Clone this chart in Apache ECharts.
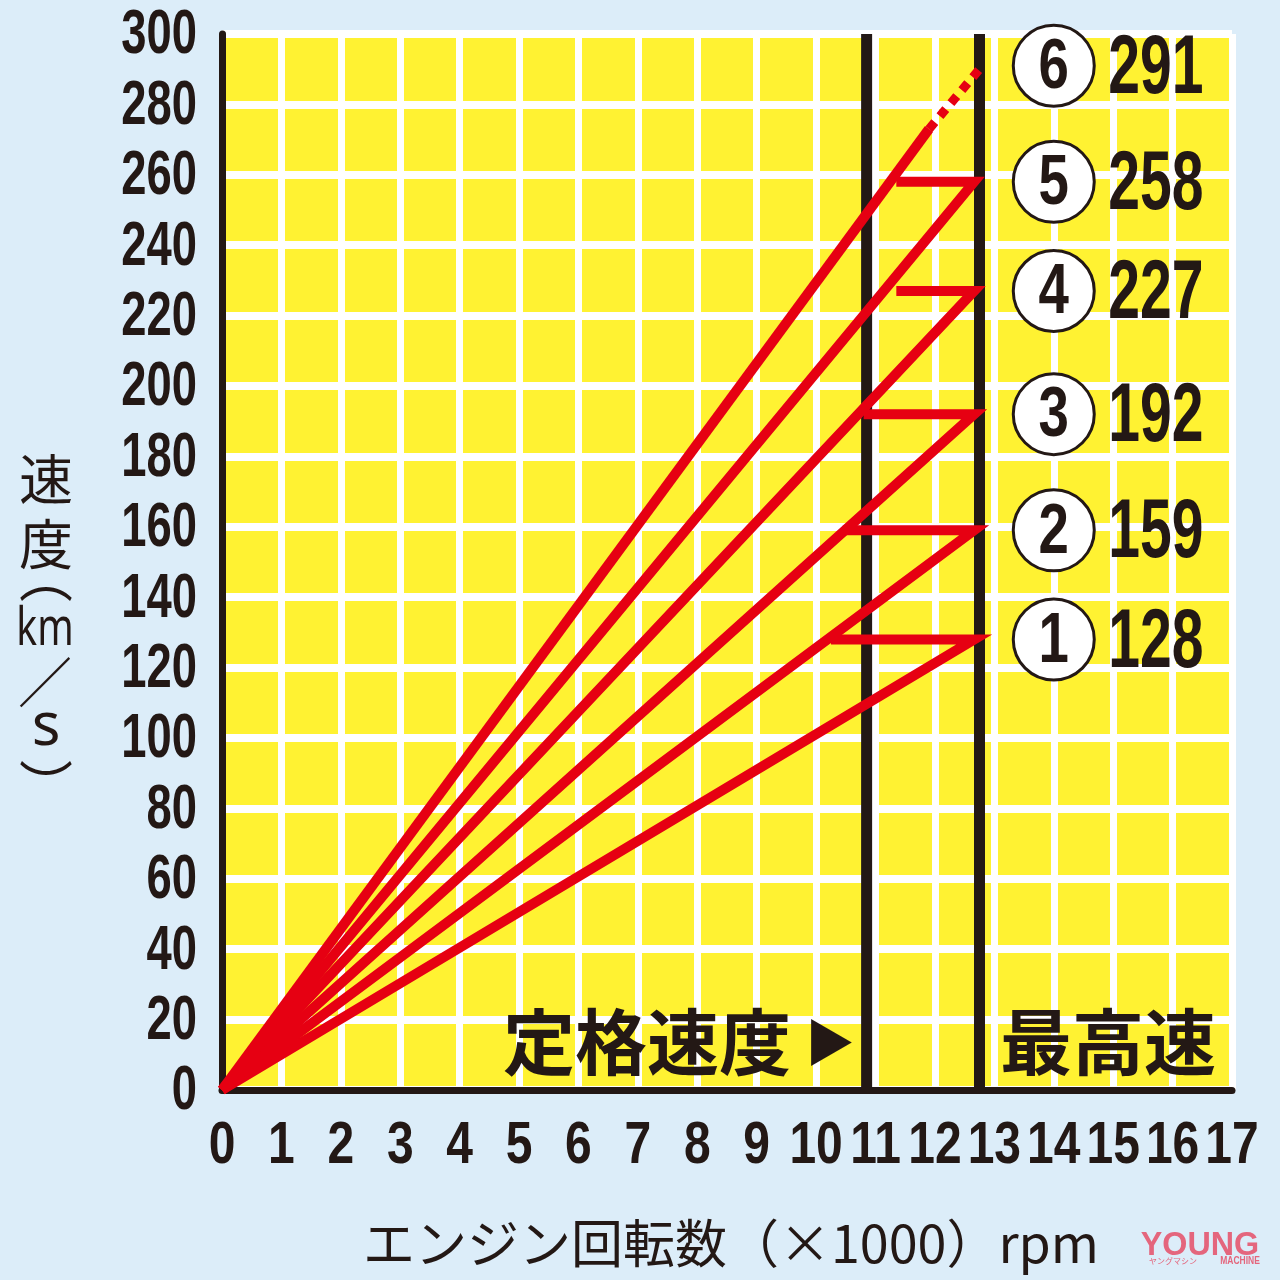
<!DOCTYPE html>
<html><head><meta charset="utf-8">
<script src="https://cdn.jsdelivr.net/npm/echarts@6/dist/echarts.min.js"></script>
<style>html,body{margin:0;padding:0;background:#dcedf9;}#c{width:1280px;height:1280px;}</style>
</head><body><div id="c"></div>
<script>
// ---- data ----
const rpmTicks = [0,1,2,3,4,5,6,7,8,9,10,11,12,13,14,15,16,17];
const speedTicks = [0,20,40,60,80,100,120,140,160,180,200,220,240,260,280,300];
const gearNames = ['1','2','3','4','5','6'];
const gearTopSpeed = [128,159,192,227,258,291];
const redlineRpm = 12.66;          // vertex of each gear line at its top speed
const shiftRpm = [10.25,10.45,10.8,11.35,11.35]; // left end of each shift line
const gear6SolidEnd = [11.9, 273];
const gear6End = [12.8, 291];
const ratedRpm = 10.85;
const maxRpm = 12.75;
const ratedLabel = '定格速度';
const maxLabel = '最高速';
const xName = 'エンジン回転数（×1000）rpm';
const yNameParts = ['︵', '速','度','km','／','s','︶'];

// ---- style ----
const RED = '#e60012', BLACK = '#231815', YELLOW = '#fff232';
const NUMFONT = '"Liberation Sans",Arial,sans-serif';
const JPFONT = '"Noto Sans CJK JP","Noto Sans",sans-serif';
const labelCircleRpm = 14.0, labelValueRpm = 14.95;

const series = [];
gearTopSpeed.forEach((top, i) => {
  if (i < 5) {
    series.push({
      type: 'line', symbol: 'none', z: 5, silent: true,
      lineStyle: { color: RED, width: 10, join: 'miter', cap: 'butt' },
      data: [[0, 0], [redlineRpm, top], [shiftRpm[i], top]]
    });
  }
});
series.push({
  type: 'line', symbol: 'none', z: 5, silent: true,
  lineStyle: { color: RED, width: 10, cap: 'butt' },
  data: [[0, 0], gear6SolidEnd]
});
series.push({
  type: 'line', symbol: 'none', z: 5, silent: true,
  lineStyle: { color: RED, width: 9, type: [9, 8], cap: 'butt' },
  data: [gear6SolidEnd, gear6End]
});
[ratedRpm, maxRpm].forEach(r => {
  series.push({
    type: 'line', symbol: 'none', z: 3, silent: true,
    lineStyle: { color: BLACK, width: 11, cap: 'butt' },
    data: [[r, 0], [r, 300]]
  });
});
series.push({
  type: 'scatter', z: 6, silent: true, symbol: 'circle', symbolSize: 81,
  itemStyle: { color: '#ffffff', borderColor: BLACK, borderWidth: 3, opacity: 1 },
  data: gearTopSpeed.map(s => [labelCircleRpm, s])
});

const option = {
  backgroundColor: '#dcedf9',
  animation: false,
  grid: { left: 222, right: 48, top: 34, bottom: 190, show: true, backgroundColor: YELLOW, borderWidth: 0 },
  xAxis: {
    type: 'value', min: rpmTicks[0], max: rpmTicks[rpmTicks.length - 1], interval: 1,
    axisLine: { show: true, onZero: false, lineStyle: { color: BLACK, width: 7 } },
    axisTick: { show: false },
    splitLine: { show: true, lineStyle: { color: '#ffffff', width: 7 } },
    axisLabel: { show: false }
  },
  yAxis: {
    type: 'value', min: speedTicks[0], max: speedTicks[speedTicks.length - 1], interval: 20,
    axisLine: { show: true, onZero: false, lineStyle: { color: BLACK, width: 7 } },
    axisTick: { show: false },
    splitLine: { show: true, lineStyle: { color: '#ffffff', width: 8 } },
    axisLabel: { show: false }
  },
  series: series
};
const chart = echarts.init(document.getElementById('c'));
chart.setOption(option);

// condensed labels placed through the chart's own scales
const px = v => chart.convertToPixel({ gridIndex: 0 }, [v, 0])[0];
const py = v => chart.convertToPixel({ gridIndex: 0 }, [0, v])[1];
function txt(text, x, y, o) {
  return {
    type: 'text', z: 20, silent: true, x: x, y: y,
    scaleX: o.sx || 1, scaleY: o.sy || 1,
    style: {
      text: text, x: 0, y: 0, fill: o.fill || BLACK,
      fontFamily: o.font || NUMFONT, fontSize: o.size, fontWeight: o.weight || 'normal',
      textAlign: o.align || 'center', textVerticalAlign: 'middle', rich: o.rich
    }
  };
}
const graphic = [];
speedTicks.forEach(v => graphic.push(txt(String(v), 197, py(v) + 2, { size: 63, weight: 'bold', sx: 0.72, align: 'right' })));
rpmTicks.forEach(v => graphic.push(txt(String(v), px(v), 1146, { size: 60, weight: 'bold', sx: 0.8 })));
gearTopSpeed.forEach((s, i) => {
  graphic.push(txt(gearNames[i], px(labelCircleRpm), py(s) + 3, { size: 70, weight: 'bold', sx: 0.78 }));
  graphic.push(txt(String(s), px(labelValueRpm) - 2, py(s) + 4, { size: 84, weight: 'bold', sx: 0.68, align: 'left' }));
});
graphic.push(txt('{a|' + ratedLabel + '}{b|▶}', 503, 1042, { font: JPFONT, size: 72, weight: 'bold', align: 'left',
  rich: { a: { fontFamily: JPFONT, fontSize: 72, fontWeight: 'bold', fill: BLACK }, b: { fontFamily: JPFONT, fontSize: 50, fill: BLACK, padding: [0, 0, 0, 14] } } }));
graphic.push(txt(maxLabel, 1000, 1042, { font: JPFONT, size: 72, weight: 'bold', align: 'left' }));
graphic.push(txt(xName, 731, 1243, { font: JPFONT, size: 52 }));
// y axis name, stacked vertically
graphic.push(txt(yNameParts[1], 46, 479, { font: JPFONT, size: 54 }));
graphic.push(txt(yNameParts[2], 46, 544, { font: JPFONT, size: 54 }));
graphic.push(txt(yNameParts[0], 46, 576, { font: JPFONT, size: 54 }));
graphic.push(txt(yNameParts[3], 45, 630, { font: '"Noto Sans",sans-serif', size: 52, sx: 0.75 }));
graphic.push(txt(yNameParts[4], 45, 682, { font: JPFONT, size: 54 }));
graphic.push(txt(yNameParts[5], 46, 728, { font: '"Noto Sans",sans-serif', size: 60 }));
graphic.push(txt(yNameParts[6], 46, 786, { font: JPFONT, size: 54 }));
// publisher mark
graphic.push(txt('YOUNG', 1200, 1246, { size: 34, weight: 'bold', fill: '#e4667d', sx: 0.95 }));
graphic.push(txt('ヤングマシン', 1197, 1261, { font: JPFONT, size: 8, fill: '#e4667d', align: 'right' }));
graphic.push(txt('MACHINE', 1240, 1261, { size: 10, weight: 'bold', fill: '#e4667d', sx: 0.85 }));
chart.setOption({ graphic: graphic });
</script>
</body></html>
